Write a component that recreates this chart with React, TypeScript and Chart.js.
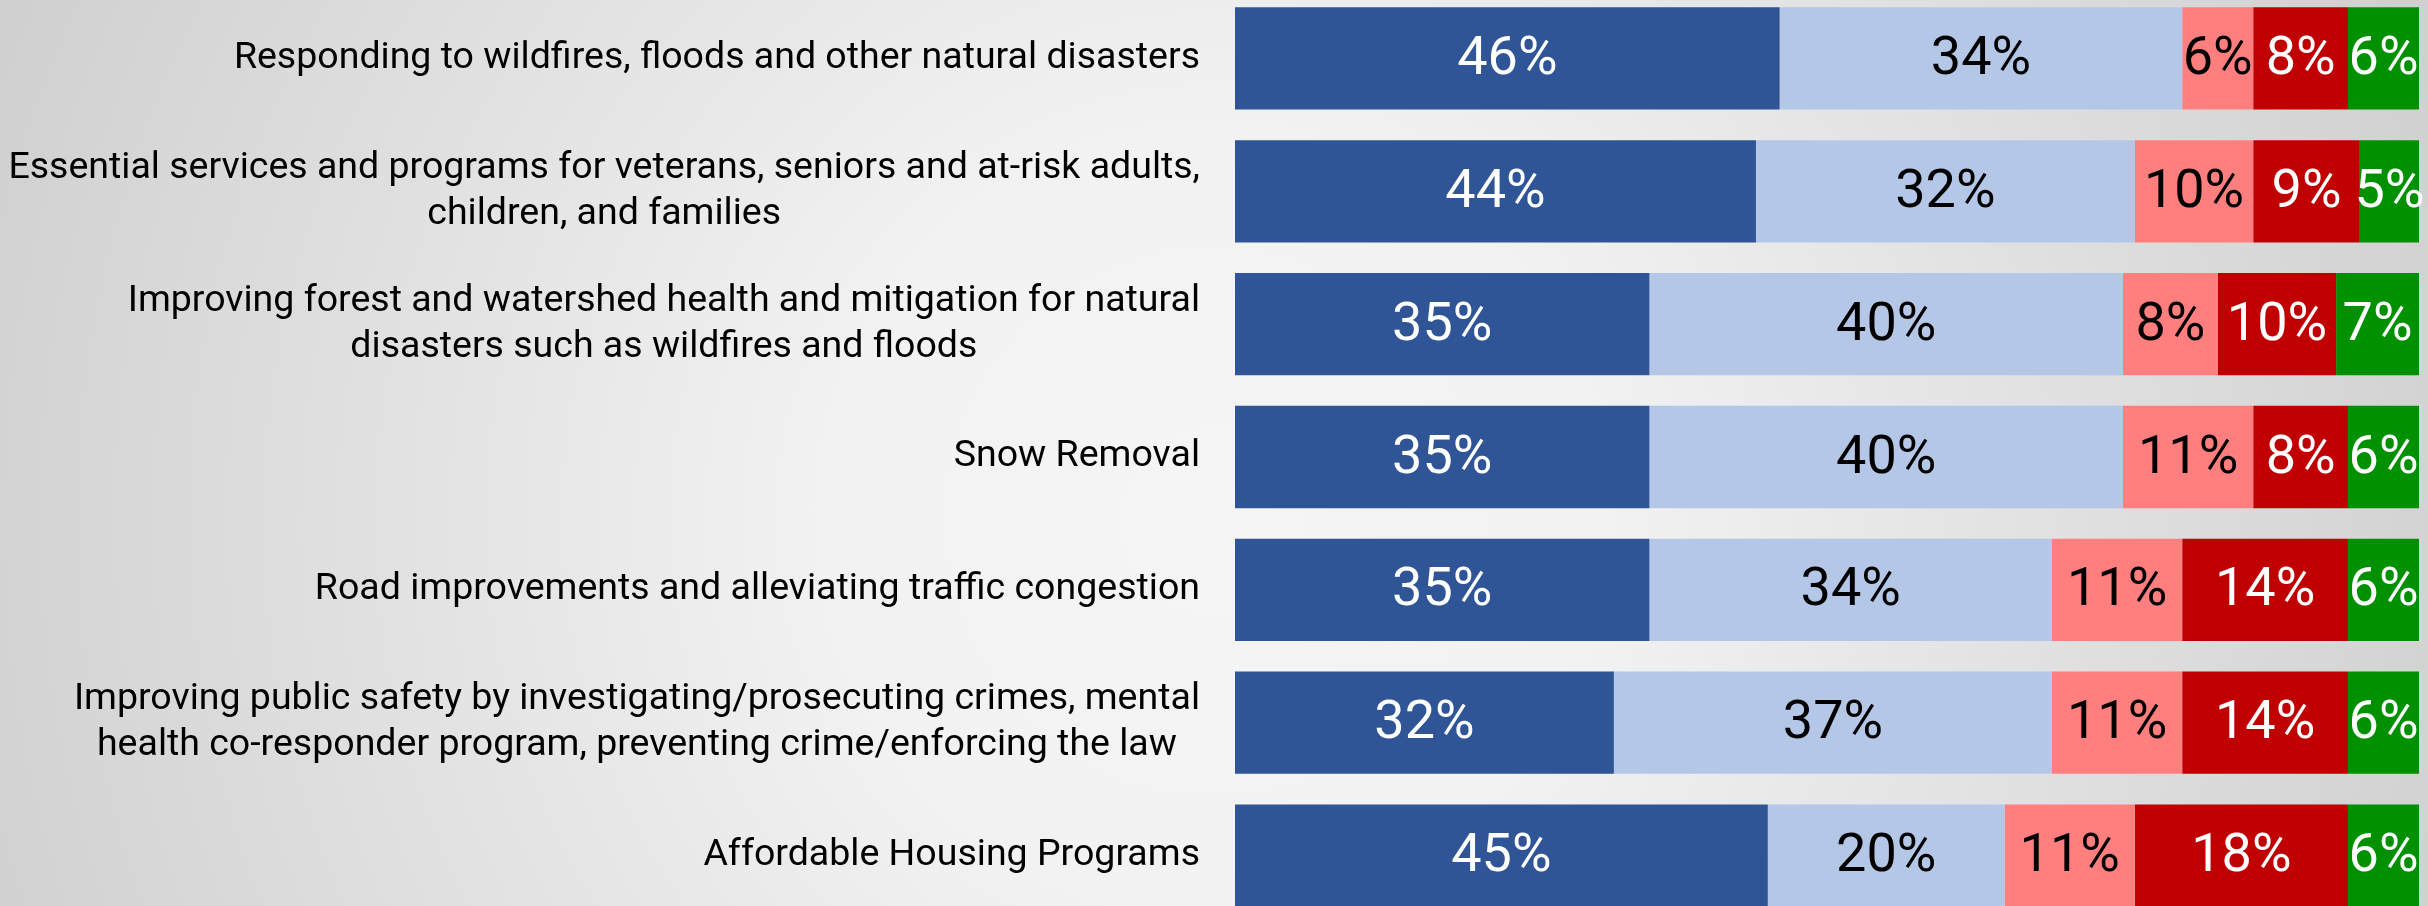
import React, { useEffect, useRef } from "react";
import { Chart, registerables } from "chart.js";

Chart.register(...registerables);

const categories: string[][] = [
  ["Responding to wildfires, floods and other natural disasters"],
  ["Essential services and programs for veterans, seniors and at-risk adults,", "children, and families"],
  ["Improving forest and watershed health and mitigation for natural", "disasters such as wildfires and floods"],
  ["Snow Removal"],
  ["Road improvements and alleviating traffic congestion"],
  ["Improving public safety by investigating/prosecuting crimes, mental", "health co-responder program, preventing crime/enforcing the law"],
  ["Affordable Housing Programs"],
];

const seriesNames = ["Series 1", "Series 2", "Series 3", "Series 4", "Series 5"];
const series1 = [46, 44, 35, 35, 35, 32, 45];
const series2 = [34, 32, 40, 40, 34, 37, 20];
const series3 = [6, 10, 8, 11, 11, 11, 11];
const series4 = [8, 9, 10, 8, 14, 14, 18];
const series5 = [6, 5, 7, 6, 6, 6, 6];

const barColors = ["#2F5597", "#B4C7E7", "#FF7F7F", "#C00000", "#009000"];
const valueColors = ["#FFFFFF", "#000000", "#000000", "#FFFFFF", "#FFFFFF"];

const W = 2428;
const H = 930;

const labelPlugin = {
  id: "customLabels",
  afterDatasetsDraw(chart: any) {
    const ctx = chart.ctx as CanvasRenderingContext2D;
    ctx.save();
    ctx.textAlign = "center";
    ctx.textBaseline = "middle";
    ctx.font = "54px Roboto";
    chart.data.datasets.forEach((ds: any, i: number) => {
      const meta = chart.getDatasetMeta(i);
      meta.data.forEach((el: any, j: number) => {
        const v = ds.data[j];
        const p = el.getCenterPoint();
        ctx.fillStyle = valueColors[i];
        ctx.fillText(v + "%", p.x, p.y + 2);
      });
    });
    const yScale = chart.scales.y;
    const right = chart.chartArea.left - 35;
    const lineHeight = 46;
    ctx.font = "37.5px Roboto";
    ctx.fillStyle = "#000000";
    categories.forEach((lines, j) => {
      const cy = yScale.getPixelForValue(j);
      const widths = lines.map((l) => ctx.measureText(l).width);
      const maxW = Math.max(...widths);
      const cx = right - maxW / 2;
      lines.forEach((l, k) => {
        const ly = cy + (k - (lines.length - 1) / 2) * lineHeight;
        ctx.fillText(l, cx, ly);
      });
    });
    ctx.restore();
  },
};

export default function App() {
  const ref = useRef<HTMLCanvasElement>(null);
  useEffect(() => {
    if (!ref.current) return;
    const data = [series1, series2, series3, series4, series5];
    const chart = new Chart(ref.current, {
      type: "bar",
      data: {
        labels: categories.map((c) => c.join(" ")),
        datasets: data.map((d, i) => ({
          label: seriesNames[i],
          data: d,
          backgroundColor: barColors[i],
          borderWidth: 0,
          categoryPercentage: 1,
          barPercentage: 0.77,
        })),
      },
      options: {
        indexAxis: "y",
        responsive: false,
        maintainAspectRatio: false,
        animation: false,
        devicePixelRatio: 1,
        layout: { padding: { left: 1235, right: 9, top: 0, bottom: 0 } },
        plugins: {
          legend: { display: false },
          tooltip: { enabled: false },
        },
        scales: {
          x: { stacked: true, min: 0, max: 100, display: false },
          y: { stacked: true, display: false },
        },
      },
      plugins: [labelPlugin],
    });
    return () => chart.destroy();
  }, []);
  return (
    <div
      style={{
        position: "fixed",
        left: 0,
        top: 0,
        width: W,
        height: 906,
        overflow: "hidden",
        background:
          "radial-gradient(circle at 1214px 520px, #f5f5f5 0px, #f2f2f2 390px, #e8e8e8 650px, #d0d0d0 1300px)",
      }}
    >
      <canvas
        ref={ref}
        width={W}
        height={H}
        style={{ position: "absolute", left: 0, top: -8, width: W, height: H }}
      />
    </div>
  );
}
